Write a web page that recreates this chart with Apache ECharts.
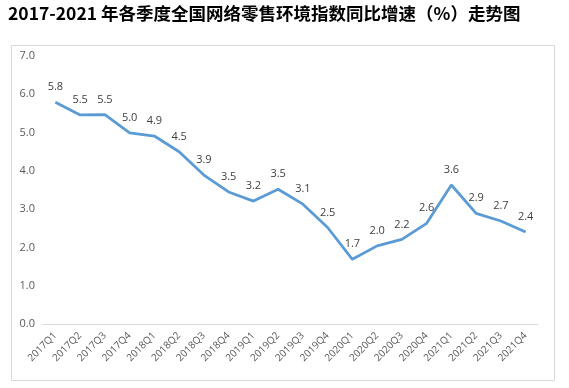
<!DOCTYPE html>
<html><head><meta charset="utf-8">
<script src="https://cdn.jsdelivr.net/npm/echarts@6/dist/echarts.min.js"></script>
<style>html,body{margin:0;padding:0;background:#fff}#c{width:569px;height:388px}</style>
</head><body><div id="c"></div>
<script>
const titleText = '2017-2021 年各季度全国网络零售环境指数同比增速（%）走势图';
const categories = ['2017Q1','2017Q2','2017Q3','2017Q4','2018Q1','2018Q2','2018Q3','2018Q4','2019Q1','2019Q2','2019Q3','2019Q4','2020Q1','2020Q2','2020Q3','2020Q4','2021Q1','2021Q2','2021Q3','2021Q4'];
const values = [5.79,5.46,5.47,4.99,4.91,4.50,3.89,3.45,3.21,3.52,3.13,2.52,1.69,2.04,2.21,2.63,3.63,2.89,2.69,2.40];
const yTicks = {min:0, max:7, interval:1};

const chart = echarts.init(document.getElementById('c'), null, {renderer:'canvas'});
chart.setOption({
  animation:false,
  graphic:[
    {type:'rect', left:9, top:43, shape:{width:543, height:335}, style:{fill:'none', stroke:'#d9d9d9', lineWidth:1}, silent:true},
    {type:'text', left:8, top:5, style:{text:titleText, font:'bold 17.5px "Noto Sans CJK SC"', fill:'#000'}}
  ],
  grid:{left:43, right:31, top:56, bottom:64},
  xAxis:{type:'category', data:categories, boundaryGap:true,
    axisLine:{lineStyle:{color:'#d9d9d9'}}, axisTick:{show:false},
    axisLabel:{rotate:45, interval:0, color:'#595959', fontSize:10, fontFamily:'Open Sans', margin:10}},
  yAxis:{type:'value', min:yTicks.min, max:yTicks.max, interval:yTicks.interval,
    splitLine:{show:false}, axisLine:{show:false}, axisTick:{show:false},
    axisLabel:{formatter:v=>v.toFixed(1), color:'#595959', fontSize:11, fontFamily:'Open Sans', margin:8}},
  series:[{type:'line', data:values, symbol:'circle', symbolSize:1, showSymbol:true,
    itemStyle:{color:'#5b9bd5', opacity:0},
    lineStyle:{color:'#5b9bd5', width:2.75},
    labelLayout:{hideOverlap:false},
    label:{show:true, position:'top', distance:9, formatter:p=>p.value.toFixed(1), color:'#404040', fontSize:11, fontFamily:'Open Sans', opacity:1}}]
});
</script></body></html>
